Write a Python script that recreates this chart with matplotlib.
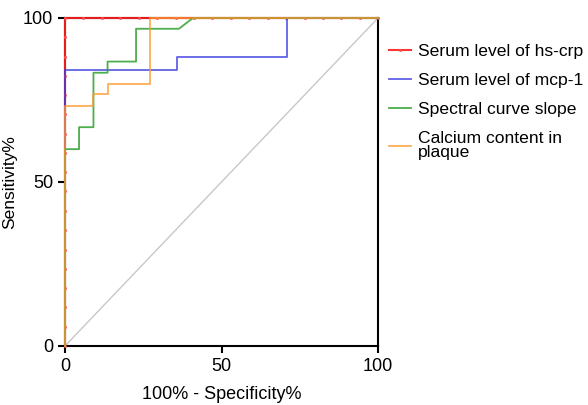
import matplotlib.pyplot as plt

plt.rcParams['font.family'] = ['Liberation Sans', 'DejaVu Sans']

# ROC data (x = 100% - Specificity%, y = Sensitivity%)
crp_x = [0, 0, 0, 0, 0, 0, 0, 0, 0, 0, 0, 0, 0, 0, 0, 0, 0, 0,
         5.9, 11.8, 17.6, 23.5, 29.4, 35.3, 41.2, 47.1, 52.9, 58.8, 64.7, 70.6, 76.5, 82.4, 88.2, 94.1, 100]
crp_y = [0, 5.9, 11.8, 17.6, 23.5, 29.4, 35.3, 41.2, 47.1, 52.9, 58.8, 64.7, 70.6, 76.5, 82.4, 88.2, 94.1, 100,
         100, 100, 100, 100, 100, 100, 100, 100, 100, 100, 100, 100, 100, 100, 100, 100, 100]

mcp_x = [0, 0, 35.7, 35.7, 70.8, 70.8, 100]
mcp_y = [0, 84, 84, 88, 88, 100, 100]

slope_x = [0, 0, 4.5, 4.5, 9.1, 9.1, 13.6, 13.6, 22.7, 22.7, 36.4, 40.9, 100]
slope_y = [0, 60, 60, 66.7, 66.7, 83.3, 83.3, 86.7, 86.7, 96.7, 96.7, 100, 100]

ca_x = [0, 0, 9.1, 9.1, 13.6, 13.6, 27.3, 27.3, 100]
ca_y = [0, 73.3, 73.3, 76.7, 76.7, 80, 80, 100, 100]

labels = ["Serum level of hs-crp", "Serum level of mcp-1",
          "Spectral curve slope", "Calcium content in\nplaque"]

fig = plt.figure(figsize=(5.88, 4.05), dpi=100)
ax = fig.add_axes([0.1105, 0.1457, 0.5325, 0.81])

ax.plot([0, 100], [0, 100], color="#c8c8c8", lw=1, zorder=1)
ax.plot(crp_x, crp_y, color="#ff2020", lw=1.5, marker="o", markersize=2.2, markeredgewidth=0,
        markerfacecolor="#ff5050", alpha=0.9, label=labels[0], clip_on=False, zorder=3)
ax.plot(mcp_x, mcp_y, color="#3a3ae0", lw=1.3, alpha=0.8, label=labels[1], clip_on=False, zorder=3)
ax.plot(slope_x, slope_y, color="#2ca02c", lw=1.3, alpha=0.85, label=labels[2], clip_on=False, zorder=3)
ax.plot(ca_x, ca_y, color="#ff9a2e", lw=1.3, alpha=0.8, label=labels[3], clip_on=False, zorder=3)

ax.set_xlim(0, 100)
ax.set_ylim(0, 100)
ax.set_xticks([0, 50, 100])
ax.set_yticks([0, 50, 100])
ax.tick_params(direction="out", length=5, width=1.5, labelsize=13)
for s in ax.spines.values():
    s.set_linewidth(1.5)
    s.set_color("black")

ax.set_xlabel("100% - Specificity%", fontsize=13, labelpad=8)
ax.set_ylabel("Sensitivity%", fontsize=12.5, labelpad=4)

leg = ax.legend(loc="upper left", bbox_to_anchor=(0.984, 0.97), frameon=False, fontsize=12.6,
                handlelength=1.27, handletextpad=0.4, labelspacing=0.8)
for t in leg.get_texts():
    t.set_linespacing(0.9)

plt.savefig("out.png", dpi=100)
